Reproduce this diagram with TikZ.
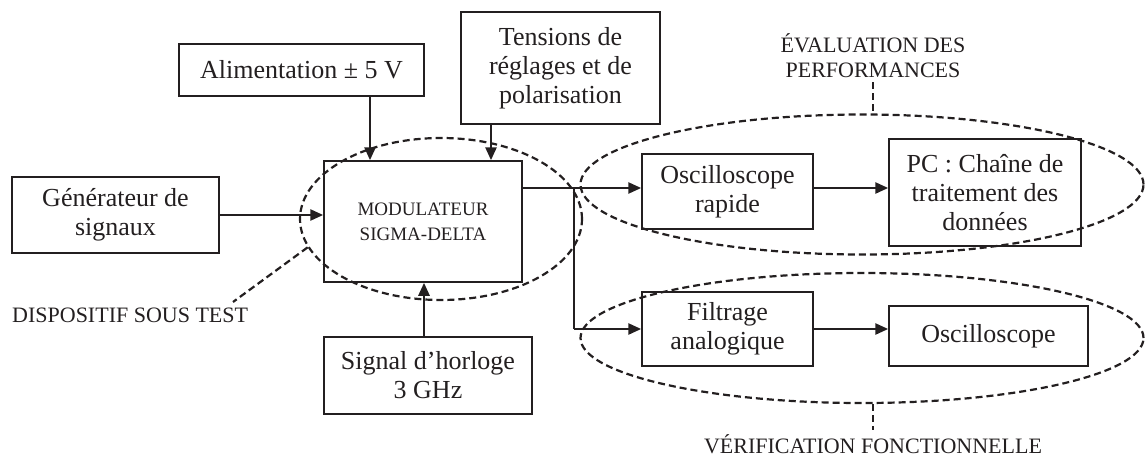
\documentclass[tikz,border=0pt]{standalone}
\usepackage{fontspec}
\setmainfont{Liberation Serif}
\usetikzlibrary{arrows.meta,shapes.geometric,calc}
\definecolor{ink}{RGB}{35,31,32}
\begin{document}
\begin{tikzpicture}[x=1pt,y=-1pt,
  box/.style={draw=ink, line width=1.5pt, align=center, inner sep=0pt, text=ink, font=\fontsize{26}{29}\selectfont},
  lab/.style={text=ink, font=\fontsize{22}{25}\selectfont, align=center, inner sep=4pt},
  zone/.style={draw=ink, ellipse, line width=2.2pt, dash pattern=on 7pt off 4pt, inner sep=0pt},
  zline/.style={draw=ink, line width=2.2pt, dash pattern=on 7pt off 4pt},
  arr/.style={draw=ink, line width=2.6pt, -{Triangle[length=13pt,width=11pt]}},
  wire/.style={draw=ink, line width=1.5pt}]
\useasboundingbox (0,0) rectangle (1145,460);

% boxes
\node[box, minimum width=207pt, minimum height=76pt] (gen) at (115.5,215) {Générateur de\\signaux};
\node[box, minimum width=245pt, minimum height=52pt] (alim) at (301.5,70) {Alimentation ± 5 V};
\node[box, minimum width=199pt, minimum height=112pt] (tens) at (560.5,68) {Tensions de\\réglages et de\\polarisation};
\node[box, font=\fontsize{19}{25}\selectfont, minimum width=198pt, minimum height=121pt] (mod) at (423,221.5) {MODULATEUR\\SIGMA-DELTA};
\node[box, minimum width=208pt, minimum height=77pt] (sig) at (428,375.5) {Signal d’horloge\\3 GHz};
\node[box, minimum width=171pt, minimum height=75pt] (oscr) at (727.5,191.5) {Oscilloscope\\rapide};
\node[box, minimum width=192pt, minimum height=107pt] (pc) at (985,192.5) {PC : Chaîne de\\traitement des\\données};
\node[box, minimum width=171pt, minimum height=74pt] (filt) at (727.5,329) {Filtrage\\analogique};
\node[box, minimum width=199pt, minimum height=60pt] (osc) at (988.5,336) {Oscilloscope};

% connectors
\coordinate (br) at (574,188);
\draw[arr] (gen.east) -- (gen.east -| mod.west);
\draw[arr] ([xshift=68.5pt]alim.south) -- ([xshift=68.5pt]alim.south |- mod.north);
\draw[arr] ([xshift=-69.5pt]tens.south) -- ([xshift=-69.5pt]tens.south |- mod.north);
\draw[arr] ([xshift=-4pt]sig.north) -- ([xshift=-4pt]sig.north |- mod.south);
\draw[arr] (br -| mod.east) -- (br -| oscr.west);
\draw[wire] (br) -- (br |- filt.west);
\draw[arr] (br |- filt.west) -- (filt.west);
\draw[arr] (br -| oscr.east) -- (br -| pc.west);
\draw[arr] (filt.east) -- (filt.east -| osc.west);

% zones
\node[zone, minimum width=282pt, minimum height=162pt] (e1) at (441,219) {};
\node[zone, minimum width=563pt, minimum height=140pt] (e2) at (862,184.5) {};
\node[zone, minimum width=563pt, minimum height=130pt] (e3) at (862,338) {};

% labels
\node[lab, anchor=south] (evl) at (873,82) {ÉVALUATION DES\\PERFORMANCES};
\draw[zline] (evl.south) -- (evl.south |- e2.north);
\node[lab, anchor=base] (ver) at (873,453) {VÉRIFICATION FONCTIONNELLE};
\draw[zline] (ver.north |- e3.south) -- (ver.north);
\node[lab, anchor=base west, inner sep=0pt] (dst) at (12,322) {DISPOSITIF SOUS TEST};
\coordinate (dste) at (233,302);
\draw[zline] (e1.192) -- (dste);
\end{tikzpicture}
\end{document}
